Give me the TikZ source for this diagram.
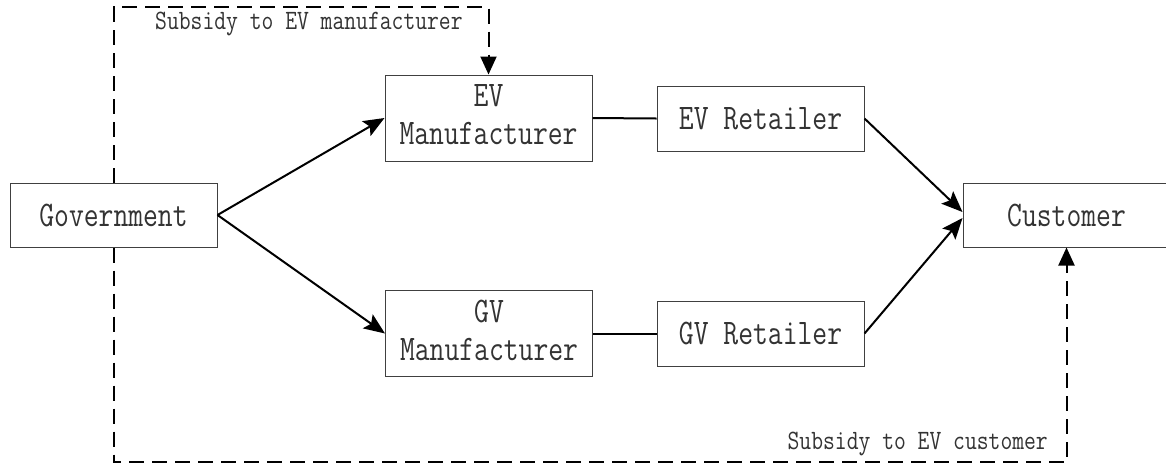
\documentclass[tikz,border=0pt]{standalone}
\usepackage{fontspec}
\usepackage{graphicx}
\usetikzlibrary{arrows.meta}
\newcommand{\boxtxt}[1]{\scalebox{0.80}[1]{#1}}
\newcommand{\lbltxt}[1]{\scalebox{0.82}[1]{#1}}
\tikzset{
  box/.style={draw=black!75, line width=1pt, minimum width=207pt, inner sep=0pt,
    font=\fontsize{36}{38}\selectfont\ttfamily, text=black!80},
  conn/.style={line width=2pt, -{Stealth[length=21pt,width=17pt,inset=4pt]}},
  plainline/.style={line width=2pt},
  dashconn/.style={line width=2pt, dash pattern=on 15pt off 8pt,
    -{Triangle[length=18pt,width=16pt]}},
  lbl/.style={font=\fontsize{28}{30}\selectfont\ttfamily, text=black!80, inner sep=0pt},
}
\begin{document}
\begin{tikzpicture}[x=1pt,y=-1pt]
\useasboundingbox (0,0) rectangle (1166,467);
\node[box, minimum height=64pt] (gov) at (113.5,215) {\boxtxt{Government}};
\node[box, minimum height=86pt] (evm) at (488.5,118) {\boxtxt{\begin{tabular}{@{}c@{}}EV\\Manufacturer\end{tabular}}};
\node[box, minimum height=86pt] (gvm) at (489,333.5) {\boxtxt{\begin{tabular}{@{}c@{}}GV\\Manufacturer\end{tabular}}};
\node[box, minimum height=65pt] (evr) at (760.5,118.5) {\boxtxt{EV Retailer}};
\node[box, minimum height=65pt] (gvr) at (760.5,333.5) {\boxtxt{GV Retailer}};
\node[box, minimum height=64pt] (cus) at (1066.5,215) {\boxtxt{Customer}};

\draw[conn] (gov.east) -- (evm.west);
\draw[conn] (gov.east) -- (gvm.west);
\draw[plainline] (evm.east) -- (evr.west);
\draw[plainline] (gvm.east) -- (gvr.west);
\draw[conn] (evr.east) -- ([yshift=3pt]cus.west);
\draw[conn] (gvr.east) -- ([yshift=-3pt]cus.west);

\coordinate (topL) at (113.5,7);
\coordinate (botL) at (113.5,462);
\draw[dashconn] (gov.north) -- (topL) -| (evm.north);
\draw[dashconn] (gov.south) -- (botL) -| (cus.south);

\node[lbl, anchor=base west] (lblm) at (155,29) {\lbltxt{Subsidy to EV manufacturer}};
\node[lbl, anchor=base east] (lblc) at (1048,449) {\lbltxt{Subsidy to EV customer}};
\end{tikzpicture}
\end{document}
